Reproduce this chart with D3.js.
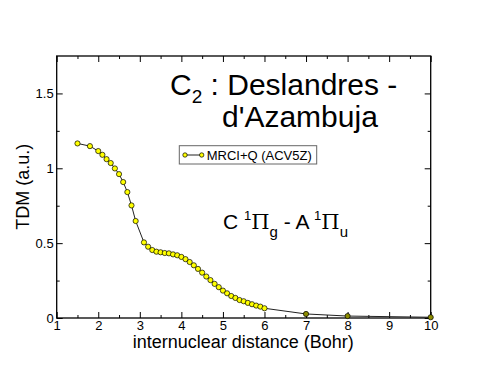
<!DOCTYPE html>
<html>
<head>
<meta charset="utf-8">
<script src="https://cdn.jsdelivr.net/npm/d3@7"></script>
<style>
    body { margin: 0; background: white; }
    text { font-family: "Liberation Sans", Arial, sans-serif; }
</style>
</head>
<body>
<script>
// internuclear distance (Bohr)
const rDist = [1.5, 1.8, 2.0, 2.1, 2.2, 2.3, 2.4, 2.5, 2.6, 2.7, 2.8, 2.9,
    3.1, 3.2, 3.3, 3.4, 3.5, 3.6, 3.7, 3.8, 3.9, 4.0, 4.1, 4.2, 4.3, 4.4, 4.5,
    4.6, 4.7, 4.8, 4.9, 5.0, 5.1, 5.2, 5.3, 5.4, 5.5, 5.6, 5.7, 5.8, 5.9, 6.0,
    7.0, 8.0, 10.0];
// TDM (a.u.), MRCI+Q (ACV5Z)
const tdm = [1.166, 1.148, 1.115, 1.090, 1.061, 1.035, 0.999, 0.961, 0.908, 0.841, 0.752, 0.648,
    0.505, 0.476, 0.454, 0.443, 0.439, 0.434, 0.432, 0.425, 0.419, 0.408, 0.393, 0.374, 0.352, 0.328, 0.303,
    0.277, 0.253, 0.228, 0.206, 0.183, 0.165, 0.147, 0.134, 0.120, 0.112, 0.101, 0.092, 0.083, 0.076, 0.065,
    0.027, 0.013, 0.005];

const xMajor = [1, 2, 3, 4, 5, 6, 7, 8, 9, 10];
const xMinor = [1.5, 2.5, 3.5, 4.5, 5.5, 6.5, 7.5, 8.5, 9.5];
const yMajor = [0, 0.5, 1, 1.5];
const yMinor = [0.25, 0.75, 1.25];
const yLabels = ['0', '0.5', '1', '1.5'];

const data = rDist.map((r, i) => ({ r: r, v: tdm[i] }));

const svg = d3.select('body')
    .append('svg')
    .attr('width', 485)
    .attr('height', 375);

const x = d3.scaleLinear().domain([1, 10]).range([56.7, 430.7]);
const y = d3.scaleLinear().domain([0, 1.75]).range([318, 56]);

// axes, ticks pointing inward like grace does
function tickStyle(g) {
    g.select('.domain').remove();
    g.selectAll('line').attr('stroke', 'black').attr('stroke-width', 1);
    g.selectAll('text').attr('font-size', 13).attr('fill', 'black');
}

svg.append('g').attr('transform', 'translate(0,318)')
    .call(d3.axisBottom(x).tickValues(xMajor).tickSize(-6).tickPadding(3).tickFormat(d3.format('d')))
    .call(tickStyle);
svg.append('g').attr('transform', 'translate(0,318)')
    .call(d3.axisBottom(x).tickValues(xMinor).tickSize(-3).tickFormat(''))
    .call(tickStyle);
svg.append('g').attr('transform', 'translate(0,56)')
    .call(d3.axisTop(x).tickValues(xMajor).tickSize(-6).tickFormat(''))
    .call(tickStyle);
svg.append('g').attr('transform', 'translate(0,56)')
    .call(d3.axisTop(x).tickValues(xMinor).tickSize(-3).tickFormat(''))
    .call(tickStyle);

svg.append('g').attr('transform', 'translate(56.7,0)')
    .call(d3.axisLeft(y).tickValues(yMajor).tickSize(-6).tickPadding(3).tickFormat((d, i) => yLabels[i]))
    .call(tickStyle);
svg.append('g').attr('transform', 'translate(56.7,0)')
    .call(d3.axisLeft(y).tickValues(yMinor).tickSize(-3).tickFormat(''))
    .call(tickStyle);
svg.append('g').attr('transform', 'translate(430.7,0)')
    .call(d3.axisRight(y).tickValues(yMajor).tickSize(-6).tickFormat(''))
    .call(tickStyle);
svg.append('g').attr('transform', 'translate(430.7,0)')
    .call(d3.axisRight(y).tickValues(yMinor).tickSize(-3).tickFormat(''))
    .call(tickStyle);

// frame
svg.append('rect')
    .attr('x', x(1))
    .attr('y', y(1.75))
    .attr('width', x(10) - x(1))
    .attr('height', y(0) - y(1.75))
    .attr('fill', 'none')
    .attr('stroke', 'black')
    .attr('stroke-width', 1.3);

// curve
const line = d3.line().x(d => x(d.r)).y(d => y(d.v));

svg.append('path')
    .datum(data)
    .attr('d', line)
    .attr('fill', 'none')
    .attr('stroke', '#222')
    .attr('stroke-width', 1);

svg.selectAll('circle.pt')
    .data(data)
    .enter()
    .append('circle')
    .attr('class', 'pt')
    .attr('cx', d => x(d.r))
    .attr('cy', d => y(d.v))
    .attr('r', 2.6)
    .attr('fill', d => d.r > 6 ? '#8c8c00' : '#ffff00')
    .attr('stroke', 'black')
    .attr('stroke-width', 0.7);

// axis titles
svg.append('text')
    .attr('x', 243.3)
    .attr('y', 348)
    .attr('text-anchor', 'middle')
    .attr('font-size', 18)
    .text('internuclear distance (Bohr)');

svg.append('text')
    .attr('transform', 'translate(29,186.7) rotate(-90)')
    .attr('text-anchor', 'middle')
    .attr('font-size', 18)
    .text('TDM (a.u.)');

// title
const title = svg.append('text')
    .attr('x', 170)
    .attr('y', 95)
    .attr('font-size', 30);
title.append('tspan').text('C');
title.append('tspan').attr('font-size', 19).attr('dy', 8).text('2');
title.append('tspan').attr('dy', -8).text(' : Deslandres -');

svg.append('text')
    .attr('x', 222)
    .attr('y', 127)
    .attr('font-size', 30)
    .text("d'Azambuja");

// state label
const states = svg.append('text')
    .attr('x', 223)
    .attr('y', 229)
    .attr('font-size', 21);
states.append('tspan').text('C ');
states.append('tspan').attr('font-size', 13).attr('dy', -9).text('1');
states.append('tspan').attr('dy', 9).attr('font-family', '"DejaVu Serif", serif').text('Π');
states.append('tspan').attr('font-size', 15).attr('dy', 8).text('g');
states.append('tspan').attr('dy', -8).text(' - A ');
states.append('tspan').attr('font-size', 13).attr('dy', -9).text('1');
states.append('tspan').attr('dy', 9).attr('font-family', '"DejaVu Serif", serif').text('Π');
states.append('tspan').attr('font-size', 15).attr('dy', 8).text('u');

// legend
const legend = svg.append('g');
legend.append('rect')
    .attr('x', 179.3)
    .attr('y', 145.7)
    .attr('width', 137.4)
    .attr('height', 18.3)
    .attr('fill', 'white')
    .attr('stroke', '#666')
    .attr('stroke-width', 1);
legend.append('line')
    .attr('x1', 185).attr('x2', 201.7)
    .attr('y1', 155).attr('y2', 155)
    .attr('stroke', '#222');
legend.selectAll('circle')
    .data([185, 201.7])
    .enter()
    .append('circle')
    .attr('cx', d => d)
    .attr('cy', 155)
    .attr('r', 2.2)
    .attr('fill', '#ffff00')
    .attr('stroke', 'black')
    .attr('stroke-width', 0.7);
legend.append('text')
    .attr('x', 206.7)
    .attr('y', 159.6)
    .attr('font-size', 13)
    .text('MRCI+Q (ACV5Z)');
</script>
</body>
</html>
